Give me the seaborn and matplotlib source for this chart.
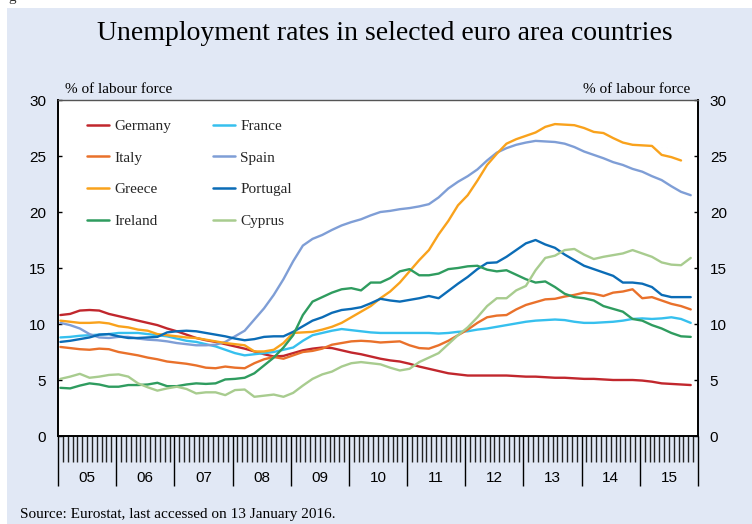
import numpy as np
import pandas as pd
import matplotlib
matplotlib.use("Agg")
import matplotlib.pyplot as plt
import seaborn as sns
from matplotlib.patches import Rectangle

# ---------------- data (bi-monthly readings, Jan 2005 .. Nov 2015) ----------------
months = list(range(0, 131, 2))  # month index since Jan 2005
year_labels = ["05", "06", "07", "08", "09", "10", "11", "12", "13", "14", "15"]

germany = [10.8, 10.9, 11.2, 11.25, 11.2, 10.9, 10.7, 10.5, 10.3, 10.1,
           9.9, 9.6, 9.35, 9.05, 8.75, 8.55, 8.4, 8.2, 8.0, 7.8,
           7.55, 7.3, 7.1, 7.15, 7.4, 7.65, 7.8, 7.9, 7.85, 7.65,
           7.45, 7.3, 7.1, 6.9, 6.75, 6.65, 6.45, 6.2, 6.0, 5.8,
           5.6, 5.5, 5.4, 5.4, 5.4, 5.4, 5.4, 5.35, 5.3, 5.3,
           5.25, 5.2, 5.2, 5.15, 5.1, 5.1, 5.05, 5.0, 5.0, 5.0,
           4.95, 4.85, 4.7, 4.65, 4.6, 4.55]
france = [8.8, 8.85, 8.95, 9.0, 9.05, 9.1, 9.2, 9.2, 9.2, 9.1,
          9.0, 8.9, 8.7, 8.5, 8.4, 8.2, 8.0, 7.7, 7.4, 7.2,
          7.3, 7.4, 7.5, 7.7, 7.9, 8.5, 9.0, 9.2, 9.4, 9.55,
          9.45, 9.35, 9.25, 9.2, 9.2, 9.2, 9.2, 9.2, 9.2, 9.15,
          9.2, 9.3, 9.35, 9.5, 9.6, 9.75, 9.9, 10.05, 10.2, 10.3,
          10.35, 10.4, 10.35, 10.2, 10.1, 10.1, 10.15, 10.2, 10.3, 10.45,
          10.5, 10.45, 10.5, 10.6, 10.45, 10.1]
italy = [7.95, 7.85, 7.75, 7.7, 7.8, 7.75, 7.5, 7.35, 7.2, 7.0,
         6.85, 6.65, 6.55, 6.45, 6.3, 6.1, 6.05, 6.2, 6.1, 6.05,
         6.5, 6.85, 7.05, 6.9, 7.2, 7.5, 7.6, 7.8, 8.15, 8.3,
         8.45, 8.5, 8.45, 8.35, 8.4, 8.45, 8.1, 7.85, 7.8, 8.1,
         8.5, 9.0, 9.5, 10.1, 10.6, 10.75, 10.8, 11.3, 11.7, 11.95,
         12.2, 12.25, 12.45, 12.6, 12.8, 12.7, 12.5, 12.8, 12.9, 13.1,
         12.3, 12.4, 12.1, 11.8, 11.6, 11.3]
spain = [10.1, 9.9, 9.6, 9.1, 8.8, 8.75, 8.85, 8.85, 8.7, 8.6,
         8.55, 8.45, 8.3, 8.2, 8.1, 8.1, 8.15, 8.4, 8.9, 9.4,
         10.4, 11.4, 12.6, 14.0, 15.6, 17.0, 17.6, 17.95, 18.4, 18.8,
         19.1, 19.35, 19.7, 20.0, 20.1, 20.25, 20.35, 20.5, 20.7, 21.3,
         22.1, 22.7, 23.2, 23.8, 24.6, 25.3, 25.7, 26.0, 26.2, 26.35,
         26.3, 26.25, 26.1, 25.8, 25.4, 25.1, 24.8, 24.45, 24.2, 23.85,
         23.6, 23.2, 22.85, 22.3, 21.8, 21.5]
greece = [10.3, 10.2, 10.1, 10.1, 10.15, 10.05, 9.8, 9.7, 9.5, 9.4,
          9.1, 9.0, 8.9, 8.8, 8.75, 8.6, 8.45, 8.3, 8.2, 8.1,
          7.55, 7.55, 7.7, 8.3, 9.2, 9.25, 9.3, 9.5, 9.75, 10.1,
          10.6, 11.1, 11.6, 12.3, 12.9, 13.7, 14.7, 15.7, 16.6, 18.0,
          19.2, 20.6, 21.5, 22.8, 24.2, 25.2, 26.1, 26.5, 26.8, 27.1,
          27.6, 27.85, 27.8, 27.75, 27.5, 27.15, 27.05, 26.6, 26.2, 26.0,
          25.95, 25.9, 25.1, 24.9, 24.6, np.nan]
portugal = [8.4, 8.5, 8.65, 8.8, 9.05, 9.1, 8.9, 8.75, 8.75, 8.8,
            8.85, 9.25, 9.35, 9.4, 9.35, 9.2, 9.05, 8.9, 8.7, 8.55,
            8.65, 8.85, 8.9, 8.9, 9.3, 9.8, 10.3, 10.6, 11.0, 11.25,
            11.35, 11.5, 11.85, 12.25, 12.1, 12.0, 12.15, 12.3, 12.5, 12.3,
            12.95, 13.6, 14.2, 14.9, 15.45, 15.5, 16.0, 16.6, 17.2, 17.5,
            17.1, 16.8, 16.2, 15.7, 15.2, 14.9, 14.6, 14.3, 13.7, 13.7,
            13.6, 13.3, 12.6, 12.4, 12.4, 12.4]
ireland = [4.3, 4.25, 4.5, 4.7, 4.6, 4.4, 4.4, 4.55, 4.55, 4.6,
           4.75, 4.45, 4.45, 4.6, 4.7, 4.65, 4.7, 5.05, 5.1, 5.2,
           5.6, 6.3, 7.0, 7.9, 9.0, 10.8, 12.0, 12.4, 12.8, 13.1,
           13.2, 13.0, 13.7, 13.7, 14.1, 14.7, 14.9, 14.35, 14.35, 14.5,
           14.9, 15.0, 15.15, 15.2, 14.85, 14.7, 14.8, 14.4, 14.0, 13.7,
           13.8, 13.3, 12.7, 12.4, 12.3, 12.1, 11.6, 11.35, 11.1, 10.45,
           10.3, 9.9, 9.6, 9.2, 8.9, 8.85]
cyprus = [5.1, 5.3, 5.55, 5.2, 5.3, 5.45, 5.5, 5.3, 4.7, 4.35,
          4.05, 4.25, 4.4, 4.2, 3.8, 3.9, 3.9, 3.65, 4.1, 4.15,
          3.5, 3.6, 3.7, 3.5, 3.85, 4.5, 5.1, 5.5, 5.75, 6.2,
          6.5, 6.6, 6.5, 6.4, 6.1, 5.85, 6.0, 6.6, 7.0, 7.4,
          8.2, 9.0, 9.7, 10.6, 11.6, 12.3, 12.3, 13.0, 13.4, 14.8,
          15.9, 16.1, 16.6, 16.7, 16.2, 15.8, 16.0, 16.15, 16.3, 16.6,
          16.3, 16.0, 15.5, 15.3, 15.25, 15.9]

countries = ["Germany", "France", "Italy", "Spain", "Greece", "Portugal", "Ireland", "Cyprus"]
series = [germany, france, italy, spain, greece, portugal, ireland, cyprus]
colors = ["#C1272D", "#36C0EE", "#E9712B", "#7F9ED6", "#F9A21C", "#0B6CB6", "#2F9C5F", "#A8CC8F"]

rows = []
for name, vals in zip(countries, series):
    for m, v in zip(months, vals):
        rows.append({"month": m + 0.5, "rate": v, "country": name})
df = pd.DataFrame(rows).dropna()

# ---------------- figure ----------------
sns.set_style("ticks")
plt.rcParams["font.family"] = ["Liberation Sans", "DejaVu Sans"]
SERIF = ["Liberation Serif", "DejaVu Serif"]
BG = "#E1E8F5"

W, H = 752, 524
fig = plt.figure(figsize=(W / 100, H / 100), dpi=100)
fig.patch.set_facecolor("white")
fig.patches.append(Rectangle((7 / W, 0), 1, 1 - 7.5 / H, transform=fig.transFigure,
                             facecolor=BG, edgecolor="none", zorder=0))
fig.text(8 / W, 1 - 0.5 / H, "g", family=SERIF, fontsize=11, ha="left", va="baseline", color="#333333")

ax = fig.add_axes([58 / W, 1 - 436 / H, 640 / W, 336 / H])
ax.set_zorder(2)
ax.set_facecolor("white")

sns.lineplot(data=df, x="month", y="rate", hue="country", hue_order=countries,
             palette=dict(zip(countries, colors)), linewidth=1.7,
             estimator=None, errorbar=None, ax=ax)

ax.set_xlim(0, 132)
ax.set_ylim(0, 30)
ax.set_xlabel("")
ax.set_ylabel("")

# y ticks both sides, pointing inward
ax.set_yticks(range(0, 31, 5))
ax.tick_params(axis="y", which="both", direction="in", length=3, width=1.0, color="black",
               left=True, right=True, labelleft=True, labelright=True, pad=8.5,
               labelsize=11, labelcolor="black")

# x ticks: monthly comb + long year separators
ax.set_xticks(np.arange(0, 133, 12))
ax.set_xticks(np.arange(0, 133, 1), minor=True)
ax.set_xticklabels([])
ax.tick_params(axis="x", which="major", direction="out", length=36, width=1.0, color="black")
ax.tick_params(axis="x", which="minor", direction="out", length=18.5, width=1.0, color="#222222")
for i, lab in enumerate(year_labels):
    ax.text(12 * i + 6, -41.5 / 336, lab, transform=ax.get_xaxis_transform(),
            ha="center", va="center", fontsize=11, color="black")

for side in ["left", "right", "bottom"]:
    ax.spines[side].set_visible(True)
    ax.spines[side].set_color("black")
    ax.spines[side].set_linewidth(1.4)
ax.spines["top"].set_visible(True)
ax.spines["top"].set_color("#555555")
ax.spines["top"].set_linewidth(1.0)
ax.grid(False)

# legend, row-major order in 2 columns
handles, labels = ax.get_legend_handles_labels()
hmap = dict(zip(labels, handles))
order = ["Germany", "Italy", "Greece", "Ireland", "France", "Spain", "Portugal", "Cyprus"]
leg = ax.legend([hmap[k] for k in order], order, ncol=2, loc="upper left",
                bbox_to_anchor=(28.5 / 640, (436 - 119.5) / 336), frameon=False,
                prop={"family": SERIF, "size": 11}, handlelength=1.45, handletextpad=0.35,
                columnspacing=2.75, labelspacing=1.17, borderpad=0, borderaxespad=0)
for lh in leg.get_lines():
    lh.set_linewidth(1.8)

# texts
fig.text(385 / W, 1 - 39.5 / H, "Unemployment rates in selected euro area countries",
         family=SERIF, fontsize=20, ha="center", va="baseline", color="black")
fig.text(65 / W, 1 - 93 / H, "% of labour force", family=SERIF, fontsize=11,
         ha="left", va="baseline", color="black")
fig.text(690 / W, 1 - 93 / H, "% of labour force", family=SERIF, fontsize=11,
         ha="right", va="baseline", color="black")
fig.text(20 / W, 1 - 518 / H, "Source: Eurostat, last accessed on 13 January 2016.",
         family=SERIF, fontsize=11, ha="left", va="baseline", color="black")

fig.savefig("out.png", dpi=100, facecolor=fig.get_facecolor())
